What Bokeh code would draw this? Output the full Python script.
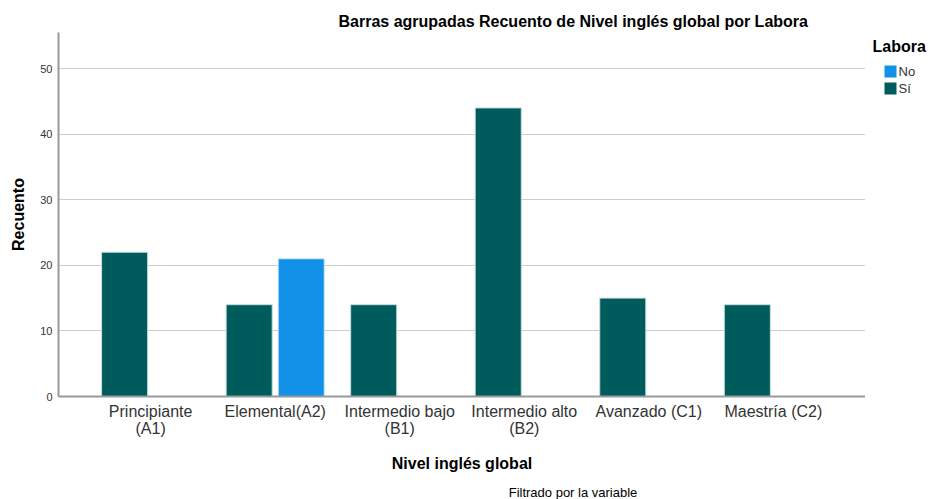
from bokeh.plotting import figure
from bokeh.models import ColumnDataSource, FactorRange, Range1d, FixedTicker
from bokeh.transform import dodge
from bokeh.layouts import row, column
from bokeh.embed import file_html
from bokeh.resources import INLINE

categories = ["Principiante\n(A1)", "Elemental(A2)", "Intermedio bajo\n(B1)",
              "Intermedio alto\n(B2)", "Avanzado (C1)", "Maestría (C2)"]
si_values = [22, 14, 14, 44, 15, 14]
no_values = [0, 21, 0, 0, 0, 0]
y_ticks = [0, 10, 20, 30, 40, 50]
legend_labels = ["No", "Sí"]

FONT = "Liberation Sans"
SI_COLOR = "#005c5c"
NO_COLOR = "#1192e8"
legend_colors = [NO_COLOR, SI_COLOR]

src = ColumnDataSource(dict(cat=categories, si=si_values, no=no_values))

TOTAL_W, TOTAL_H = 928, 499
FOOT_H = 19
W, H = 865, TOTAL_H - FOOT_H
FRAME_LEFT, FRAME_TOP, FRAME_BOTTOM = 58, 32, 396
p = figure(width=W, height=H, output_backend="svg", toolbar_location=None,
           x_range=FactorRange(factors=categories, range_padding=0.08),
           y_range=Range1d(0, 55.5),
           min_border_left=FRAME_LEFT, min_border_right=0, min_border_top=FRAME_TOP,
           min_border_bottom=H - FRAME_BOTTOM)
p.outline_line_color = None

r_si = p.vbar(x=dodge("cat", -0.209, range=p.x_range), top="si", width=0.37, source=src,
              fill_color=SI_COLOR, line_color="#c9dede", line_width=1)
r_no = p.vbar(x=dodge("cat", 0.209, range=p.x_range), top="no", width=0.37, source=src,
              fill_color=NO_COLOR, line_color="#cfe6f7", line_width=1)

# title
p.title.text = "Barras agrupadas Recuento de Nivel inglés global por Labora"
p.title.align = "left"
p.title.offset = 280
p.title.standoff = 6
p.title.text_font = FONT
p.title.text_font_size = "16px"
p.title.text_font_style = "bold"
p.title.text_color = "#000000"

# axes
for ax in (p.xaxis, p.yaxis):
    ax.major_tick_line_color = None
    ax.minor_tick_line_color = None
    ax.major_tick_out = 0
    ax.major_tick_in = 0
    ax.axis_line_color = "#999999"
    ax.axis_line_width = 2
    ax.axis_label_text_font = FONT
    ax.axis_label_text_font_style = "bold"
    ax.axis_label_text_font_size = "16px"
    ax.axis_label_text_color = "#000000"
    ax.major_label_text_font = FONT
    ax.major_label_text_color = "#333333"

p.xaxis.major_label_text_font_size = "16px"
p.xaxis.major_label_text_line_height = 1.0
p.xaxis.major_label_standoff = 6
p.xaxis.axis_label = "Nivel inglés global"
p.xaxis.axis_label_standoff = 15

p.yaxis.ticker = FixedTicker(ticks=y_ticks)
p.yaxis.major_label_text_font_size = "11px"
p.yaxis.major_label_standoff = 6
p.yaxis.axis_label = "Recuento"
p.yaxis.axis_label_standoff = 10

p.xgrid.grid_line_color = None
p.ygrid.grid_line_color = "#cccccc"
p.ygrid.grid_line_width = 1

# legend panel (separate narrow figure; its frame is aligned with the main frame,
# so its y range uses page pixel rows between the frame edges)
LW = TOTAL_W - W
leg = figure(width=LW, height=H, output_backend="svg", toolbar_location=None,
             x_range=Range1d(0, LW), y_range=Range1d(FRAME_BOTTOM, FRAME_TOP),
             x_axis_location=None, y_axis_location=None,
             min_border=0, min_border_left=0, min_border_right=0,
             min_border_top=FRAME_TOP, min_border_bottom=H - FRAME_BOTTOM)
leg.outline_line_color = None
leg.grid.visible = False

leg.text(x=[7], y=[46], text=["Labora"], text_font={"value": FONT}, text_font_size="16px",
         text_font_style="bold", text_color="#000000", text_baseline="middle")
row_y = [65 + 17 * i for i in range(len(legend_labels))]
leg.quad(left=[19] * len(row_y), right=[31] * len(row_y), top=row_y,
         bottom=[y + 12 for y in row_y], fill_color=legend_colors, line_color=None)
leg.text(x=[33] * len(row_y), y=[y + 6 for y in row_y], text=legend_labels,
         text_font={"value": FONT}, text_font_size="13px", text_color="#333333",
         text_baseline="middle")

# footnote strip
foot = figure(width=TOTAL_W, height=FOOT_H, output_backend="svg", toolbar_location=None,
              x_range=Range1d(0, TOTAL_W), y_range=Range1d(FOOT_H, 0),
              x_axis_location=None, y_axis_location=None,
              min_border=0, min_border_left=0, min_border_right=0,
              min_border_top=0, min_border_bottom=0)
foot.outline_line_color = None
foot.grid.visible = False
foot.text(x=[572.5], y=[12], text=["Filtrado por la variable"], text_font={"value": FONT},
          text_font_size="13px", text_color="#000000", text_align="center",
          text_baseline="middle")

layout = column(row(p, leg, spacing=0), foot, spacing=0)
open("out.html", "w").write(file_html(layout, INLINE))
